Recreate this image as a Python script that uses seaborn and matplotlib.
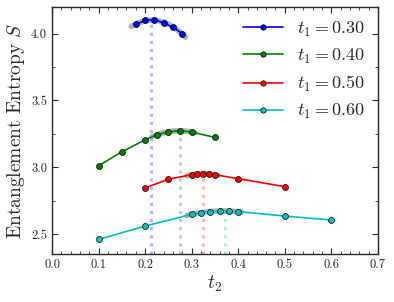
import numpy as np
import pandas as pd
import seaborn as sns
import matplotlib
matplotlib.use('Agg')
import matplotlib.pyplot as plt
from matplotlib.ticker import MultipleLocator

# values
t1_labels = ['0.30', '0.40', '0.50', '0.60']
colours = ['b', 'g', 'r', 'c']

t2_a = [0.18, 0.20, 0.22, 0.24, 0.26, 0.28]
S_a = [4.070, 4.100, 4.105, 4.080, 4.048, 4.000]

t2_b = [0.10, 0.15, 0.20, 0.225, 0.25, 0.275, 0.30, 0.35]
S_b = [3.010, 3.115, 3.205, 3.243, 3.265, 3.273, 3.263, 3.223]

t2_c = [0.20, 0.25, 0.30, 0.3125, 0.325, 0.3375, 0.35, 0.40, 0.50]
S_c = [2.845, 2.910, 2.944, 2.950, 2.952, 2.950, 2.944, 2.914, 2.854]

t2_d = [0.10, 0.20, 0.30, 0.32, 0.34, 0.36, 0.38, 0.40, 0.50, 0.60]
S_d = [2.459, 2.559, 2.647, 2.659, 2.667, 2.672, 2.672, 2.667, 2.634, 2.604]

# points near the maximum used for the parabola fit
fit_lo = [0.18, 0.225, 0.30, 0.30]
fit_hi = [0.28, 0.30, 0.35, 0.40]
# position of the maximum (dotted lines)
t2_peak = [0.213, 0.275, 0.325, 0.371]

series = [(t2_a, S_a), (t2_b, S_b), (t2_c, S_c), (t2_d, S_d)]

sns.set_style('ticks')
plt.rcParams['font.family'] = 'serif'
plt.rcParams['font.serif'] = ['cmr10', 'DejaVu Serif']
plt.rcParams['mathtext.fontset'] = 'cm'
plt.rcParams['axes.formatter.use_mathtext'] = True

fig = plt.figure(figsize=(3.94, 3.02), dpi=100)
ax = fig.add_axes([0.132, 0.159, 0.827, 0.818])

for (x, y), lab, col, lo, hi, pk in zip(series, t1_labels, colours, fit_lo, fit_hi, t2_peak):
    df = pd.DataFrame({'t2': x, 'S': y})
    sns.lineplot(data=df, x='t2', y='S', ax=ax, color=col, marker='o',
                 markersize=4.3, markeredgecolor='k', markeredgewidth=0.5,
                 linewidth=1.2, label=r'$t_1 = %s$' % lab, zorder=3)
    # parabola fit through the points close to the peak
    sel = df[(df['t2'] >= lo - 1e-9) & (df['t2'] <= hi + 1e-9)]
    p = np.polyfit(sel['t2'], sel['S'], 2)
    xf = np.linspace(lo - 0.01, hi + 0.007, 50)
    ax.plot(xf, np.polyval(p, xf), color='gray', lw=4, alpha=0.6, zorder=2,
            solid_capstyle='round')
    ax.plot([pk, pk], [2.35, np.polyval(p, pk)], color=col, ls=':', lw=2.2,
            alpha=0.3, zorder=1)

ax.set_xlim(0.0, 0.7)
ax.set_ylim(2.35, 4.2)
ax.xaxis.set_major_locator(MultipleLocator(0.1))
ax.xaxis.set_minor_locator(MultipleLocator(0.02))
ax.yaxis.set_major_locator(MultipleLocator(0.5))
ax.yaxis.set_minor_locator(MultipleLocator(0.25))
ax.xaxis.set_major_formatter(plt.FormatStrFormatter('%.1f'))
ax.yaxis.set_major_formatter(plt.FormatStrFormatter('%.1f'))
ax.tick_params(which='both', direction='in', top=True, right=True, labelsize=9)
ax.tick_params(which='major', length=4)
ax.tick_params(which='minor', length=2)
for s in ax.spines.values():
    s.set_linewidth(1.0)

ax.set_xlabel(r'$t_2$', fontsize=14, labelpad=2)
ax.set_ylabel(r'Entanglement Entropy $S$', fontsize=14, labelpad=3)
ax.legend(loc='upper right', frameon=False, fontsize=13, handlelength=2.2,
          borderaxespad=0.3, labelspacing=0.45, markerscale=0.9)

fig.savefig('out.png', dpi=100)
